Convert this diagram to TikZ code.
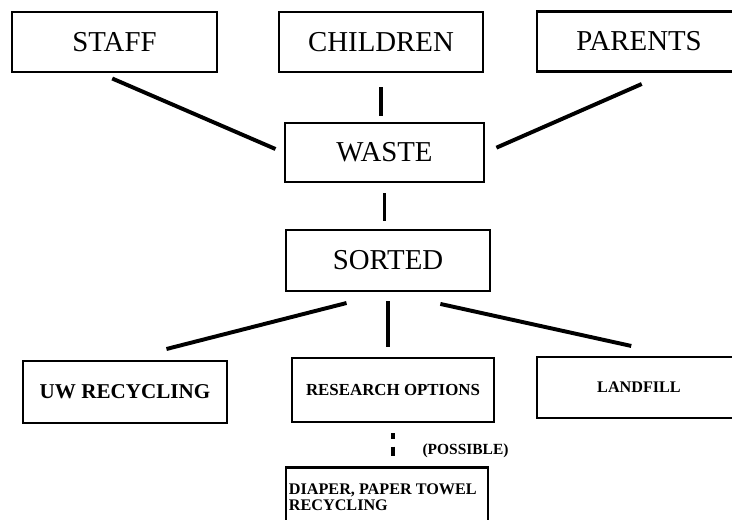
\documentclass[tikz,border=0pt]{standalone}
\usepackage{fontspec}
\setmainfont{Liberation Serif}
\usetikzlibrary{positioning}

\begin{document}
\begin{tikzpicture}[x=0.025cm,y=-0.025cm,
	box/.style={draw,line width=2pt,minimum width=5.1cm,minimum height=1.5cm,inner sep=0pt,font=\fontsize{20.5}{24}\selectfont},
	smallbox/.style={box,font=\bfseries\fontsize{12}{14}\selectfont},
	link/.style={line width=2.8pt},
	vlink/.style={line width=2.4pt}]
		\useasboundingbox (0,0) rectangle (732,520);
		\clip (0,0) rectangle (732,520);
		% sources
		\node[box,minimum width=5.125cm] (staff) at (114.5,42) {STAFF};
		\node[box] (children) at (381,42) {CHILDREN};
		\node[box] (parents) at (639,41.5) {PARENTS};
		\node[box,minimum width=4.975cm,minimum height=1.475cm] (waste) at (384.5,152.5) {WASTE};
		\node[box,minimum height=1.525cm] (sorted) at (388,260.5) {SORTED};
		% destinations
		\node[smallbox,minimum height=1.55cm,font=\bfseries\fontsize{15}{17}\selectfont] (uw) at (125,392) {UW RECYCLING};
		\node[smallbox,minimum width=5.05cm,minimum height=1.6cm] (research) at (393,390) {RESEARCH OPTIONS};
		\node[smallbox,minimum height=1.525cm,font=\bfseries\fontsize{11.5}{13}\selectfont] (landfill) at (639,387.5) {LANDFILL};
		\node[smallbox,anchor=north,minimum width=5.05cm,inner xsep=2pt,inner ysep=0.4cm,font=\bfseries\fontsize{11.5}{11.4}\selectfont] (diaper) at (387,466)
			{\parbox[t][2.2cm][t]{4.9cm}{DIAPER, PAPER TOWEL\\RECYCLING}};
		% connectors
		\draw[link,shorten <=0.32cm,shorten >=0.22cm] ([xshift=-0.35cm]staff.south) -- (waste.west);
		\draw[vlink,shorten <=0.35cm,shorten >=0.15cm] (children.south) -- (children.south |- waste.north);
		\draw[link,shorten <=0.69cm,shorten >=0.3cm] ([xshift=0.7cm]parents.south) -- (waste.east);
		\draw[vlink,shorten <=0.25cm,shorten >=0.2cm] (waste.south) -- (waste.south |- sorted.north);
		\draw[link,shorten <=1.07cm,shorten >=1.07cm] (sorted.south) -- (uw.north);
		\draw[vlink,shorten <=0.22cm,shorten >=0.25cm] (sorted.south) -- (sorted.south |- research.north);
		\draw[link,shorten <=1.34cm,shorten >=1.12cm] (sorted.south) -- ([xshift=0.9cm]landfill.north);
		\draw[line width=2.2pt,dash pattern=on 0.15cm off 0.18cm on 0.25cm off 0.3cm,shorten <=0.25cm,shorten >=0.25cm]
			(research.south) -- node[pos=0.64,right=0.7cm,inner sep=0pt,font=\bfseries\fontsize{11}{13}\selectfont] (possible) {(POSSIBLE)} (research.south |- diaper.north);
\end{tikzpicture}
\end{document}
